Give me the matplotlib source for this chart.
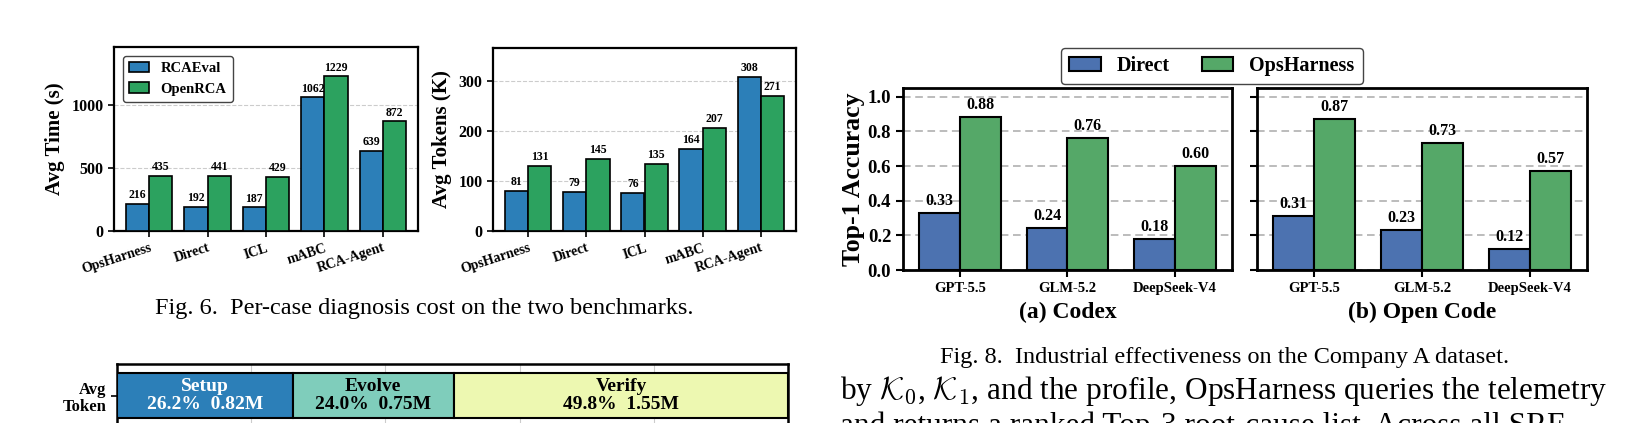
import numpy as np
import matplotlib
matplotlib.use("Agg")
import matplotlib.pyplot as plt
from matplotlib.patches import Patch
from matplotlib.ticker import MultipleLocator

plt.rcParams['font.family'] = ['Liberation Serif', 'DejaVu Serif']
plt.rcParams['font.weight'] = 'bold'
plt.rcParams['axes.labelweight'] = 'bold'
plt.rcParams['mathtext.fontset'] = 'cm'

# Fig. 6 data: per-case cost
methods = ['OpsHarness', 'Direct', 'ICL', 'mABC', 'RCA-Agent']
time_rcaeval = [216, 192, 187, 1062, 639]
time_openrca = [435, 441, 429, 1229, 872]
tok_rcaeval = [81, 79, 76, 164, 308]
tok_openrca = [131, 145, 135, 207, 271]

# Fig. 8 data: industrial top-1 accuracy
models = ['GPT-5.5', 'GLM-5.2', 'DeepSeek-V4']
codex_direct = [0.33, 0.24, 0.18]
codex_ops = [0.88, 0.76, 0.60]
open_direct = [0.31, 0.23, 0.12]
open_ops = [0.87, 0.73, 0.57]

# token breakdown bar
phases = ['Setup', 'Evolve', 'Verify']
phase_pct = [26.2, 24.0, 49.8]
phase_tok = [0.82, 0.75, 1.55]

W, H = 1633, 423
fig = plt.figure(figsize=(W / 100, H / 100), dpi=100)


def rect(l, t, r, b):
    return [l / W, 1 - b / H, (r - l) / W, (b - t) / H]


blue1, green1 = '#2c7fb8', '#2ca25f'
blue2, green2 = '#4c72b0', '#55a868'
phase_colors = ['#2c7fb8', '#7fcdbb', '#edf8b1']


def cost_panel(ax, a, b, ylabel, step, legend=False):
    x = np.arange(len(methods))
    w = 0.4
    r1 = ax.bar(x - w / 2, a, w, color=blue1, edgecolor='black', linewidth=1.2,
                label='RCAEval', zorder=3)
    r2 = ax.bar(x + w / 2, b, w, color=green1, edgecolor='black', linewidth=1.2,
                label='OpenRCA', zorder=3)
    ax.bar_label(r1, padding=2, fontsize=8.5, fontweight='bold')
    ax.bar_label(r2, padding=2, fontsize=8.5, fontweight='bold')
    ax.set_xlim(-0.6, len(methods) - 0.4)
    ax.set_ylim(0, max(max(a), max(b)) * 1.19)
    ax.yaxis.set_major_locator(MultipleLocator(step))
    ax.set_xticks(x)
    ax.set_xticklabels(methods, rotation=18, ha='right', rotation_mode='anchor',
                       fontsize=10)
    ax.set_ylabel(ylabel, fontsize=15, labelpad=5)
    ax.tick_params(axis='y', labelsize=11.5, width=1.2, length=4)
    ax.tick_params(axis='x', width=1.2, length=4)
    ax.grid(axis='y', linestyle='--', color='#cccccc', linewidth=0.8)
    ax.set_axisbelow(True)
    for s in ax.spines.values():
        s.set_linewidth(1.6)
    if legend:
        ax.legend(loc='upper left', fontsize=10.5, handlelength=1.4,
                  handleheight=0.75, framealpha=1, edgecolor='#444444',
                  borderaxespad=0.6)


ax1 = fig.add_axes(rect(114, 47, 418, 231))
cost_panel(ax1, time_rcaeval, time_openrca, 'Avg Time (s)', 500, legend=True)
ax2 = fig.add_axes(rect(493, 48, 796, 231))
cost_panel(ax2, tok_rcaeval, tok_openrca, 'Avg Tokens (K)', 100)


def acc_panel(ax, a, b, title, labels=True):
    x = np.arange(len(models))
    w = 0.38
    r1 = ax.bar(x - w / 2, a, w, color=blue2, edgecolor='black', linewidth=1.5, zorder=3)
    r2 = ax.bar(x + w / 2, b, w, color=green2, edgecolor='black', linewidth=1.5, zorder=3)
    ax.bar_label(r1, fmt='%.2f', padding=3, fontsize=11.5, fontweight='bold')
    ax.bar_label(r2, fmt='%.2f', padding=3, fontsize=11.5, fontweight='bold')
    ax.set_xlim(-0.53, len(models) - 0.47)
    ax.set_ylim(0, 1.05)
    ax.set_yticks(np.arange(0, 1.01, 0.2))
    ax.set_xticks(x)
    ax.set_xticklabels(models, fontsize=10.5)
    ax.tick_params(axis='y', labelsize=13.5, width=1.5, length=5, labelleft=labels)
    ax.tick_params(axis='x', width=1.5, length=5)
    ax.grid(axis='y', linestyle=(0, (5, 3)), color='#aaaaaa', linewidth=1.1)
    ax.set_axisbelow(True)
    for s in ax.spines.values():
        s.set_linewidth(2.0)
    if labels:
        ax.set_ylabel('Top-1 Accuracy', fontsize=18.5, labelpad=2)
    bb = ax.get_position()
    fig.text(bb.x0 + bb.width / 2, 1 - 312 / H, title, ha='center', va='center',
             fontsize=17)


ax3 = fig.add_axes(rect(903, 88, 1232, 270))
acc_panel(ax3, codex_direct, codex_ops, '(a) Codex')
ax4 = fig.add_axes(rect(1257, 88, 1587, 270))
acc_panel(ax4, open_direct, open_ops, '(b) Open Code', labels=False)

handles = [Patch(facecolor=blue2, edgecolor='black', linewidth=1.5, label='Direct'),
           Patch(facecolor=green2, edgecolor='black', linewidth=1.5, label='OpsHarness')]
fig.legend(handles=handles, loc='center', bbox_to_anchor=(1212 / W, 1 - 66 / H),
           ncol=2, fontsize=14.5, handlelength=1.55, handleheight=0.75,
           columnspacing=1.6, framealpha=1, edgecolor='#444444')

# stacked token breakdown (cut at the bottom of the page)
ax5 = fig.add_axes(rect(117, 364, 788, 427))
left = 0
for name, pct, tok, col in zip(phases, phase_pct, phase_tok, phase_colors):
    ax5.barh(0, pct, 0.6, left=left, color=col, edgecolor='black', linewidth=1.5, zorder=3)
    tc = 'white' if name == 'Setup' else 'black'
    ax5.text(left + pct / 2, 0, f'{name}\n{pct:.1f}%  {tok:.2f}M', ha='center',
             va='center', fontsize=14, color=tc, linespacing=1.05, zorder=4)
    left += pct
ax5.set_xlim(0, 100)
ax5.set_ylim(-0.42, 0.42)
ax5.set_xticks(np.arange(0, 101, 20))
ax5.tick_params(axis='x', labelbottom=False, length=0)
ax5.set_yticks([0])
ax5.set_yticklabels(['Avg\nToken'], fontsize=12, linespacing=1.1)
ax5.tick_params(axis='y', width=1.2, length=4)
ax5.grid(axis='x', color='#cccccc', linewidth=0.8)
ax5.set_axisbelow(True)
for s in ax5.spines.values():
    s.set_linewidth(1.8)

# captions and body text
fig.text(424 / W, 1 - 308 / H, 'Fig. 6.  Per-case diagnosis cost on the two benchmarks.',
         ha='center', va='center', fontsize=17.5, fontweight='normal')
fig.text(1225 / W, 1 - 357 / H, 'Fig. 8.  Industrial effectiveness on the Company A dataset.',
         ha='center', va='center', fontsize=17.5, fontweight='normal')
fig.text(840 / W, 1 - 399 / H,
         r'by $\mathcal{K}_0$, $\mathcal{K}_1$, and the profile, OpsHarness queries the telemetry',
         ha='left', va='baseline', fontsize=22.5, fontweight='normal')
fig.text(840 / W, 1 - 434 / H,
         'and returns a ranked Top-3 root-cause list. Across all SRE',
         ha='left', va='baseline', fontsize=22.5, fontweight='normal')

fig.savefig('out.png', dpi=100)
